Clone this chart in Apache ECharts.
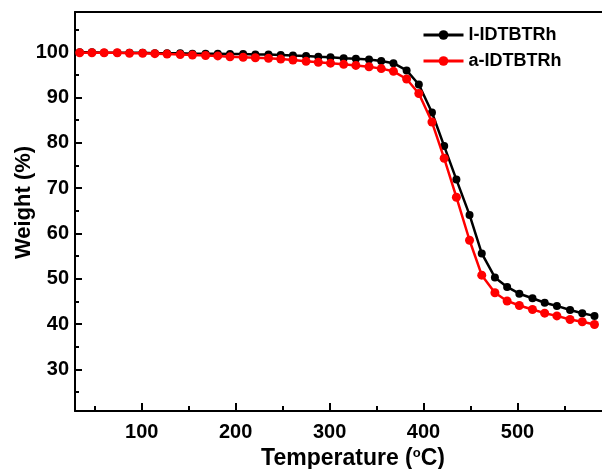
<!DOCTYPE html>
<html><head><meta charset="utf-8">
<script src="https://cdn.jsdelivr.net/npm/echarts@6/dist/echarts.min.js"></script>
<style>html,body{margin:0;padding:0;background:#fff}#c{width:602px;height:469px}</style>
</head><body><div id="c"></div>
<script>
const temperature = [34, 47, 60, 74, 87, 101, 114, 127, 141, 154, 168, 181, 194, 208, 221, 235, 248, 261, 275, 288, 301, 315, 328, 342, 355, 368, 382, 395, 409, 422, 435, 449, 462, 476, 489, 502, 516, 529, 542, 556, 569, 582];
const weightL = [100.0, 100.0, 99.9, 99.9, 99.9, 99.9, 99.8, 99.8, 99.8, 99.7, 99.7, 99.7, 99.6, 99.6, 99.5, 99.5, 99.4, 99.3, 99.2, 99.0, 98.9, 98.7, 98.6, 98.4, 98.1, 97.6, 96.0, 92.9, 86.7, 79.3, 71.9, 64.1, 55.6, 50.3, 48.2, 46.7, 45.7, 44.7, 44.0, 43.1, 42.4, 41.8];
const weightA = [99.9, 99.9, 99.9, 99.9, 99.8, 99.8, 99.7, 99.6, 99.5, 99.4, 99.3, 99.2, 99.0, 98.9, 98.8, 98.7, 98.5, 98.3, 98.0, 97.8, 97.6, 97.35, 97.1, 96.8, 96.4, 95.8, 94.1, 90.9, 84.6, 76.6, 68.0, 58.5, 50.8, 46.9, 45.1, 44.1, 43.2, 42.4, 41.8, 41.0, 40.5, 39.9];
const seriesNames = ['l-IDTBTRh', 'a-IDTBTRh'];
const xTickLabels = [100, 200, 300, 400, 500];
const xMinorTicks = [50, 150, 250, 350, 450, 550];
const yTickLabels = [30, 40, 50, 60, 70, 80, 90, 100];
const yMinorTicks = [25, 35, 45, 55, 65, 75, 85, 95, 105];

const FONT = 'Liberation Sans, Arial, sans-serif';
const X_MIN = 29, X_MAX = 590, Y_MIN = 20.8, Y_MAX = 108.9;
const chart = echarts.init(document.getElementById('c'), null, {renderer: 'canvas'});
const lineAxis = {show: true, lineStyle: {color: '#000', width: 2}};
const pairs = (ys) => temperature.map((t, i) => [t, ys[i]]);

chart.setOption({
  animation: false,
  backgroundColor: '#fff',
  grid: {left: 75, top: 12, right: 0, bottom: 58, containLabel: false, outerBoundsMode: 'none'},
  legend: {
    orient: 'vertical', left: 417, top: 20, itemGap: 6,
    itemWidth: 40, itemHeight: 12,
    lineStyle: {width: 3},
    textStyle: {fontFamily: FONT, fontWeight: 'bold', fontSize: 18, color: '#000', lineHeight: 20},
    data: seriesNames
  },
  xAxis: [
    {
      type: 'value', position: 'bottom', min: X_MIN, max: X_MAX,
      axisLine: lineAxis, splitLine: {show: false},
      axisTick: {show: true, inside: true, length: 8, lineStyle: {color: '#000', width: 2}, customValues: xTickLabels},
      axisLabel: {customValues: xTickLabels, margin: 11, fontFamily: FONT, fontWeight: 'bold', fontSize: 20, color: '#000'},
      name: 'Temperature ({sup|o}C)', nameLocation: 'middle', nameGap: 35,
      nameTextStyle: {fontFamily: FONT, fontWeight: 'bold', fontSize: 23, color: '#000', padding: [0, 0, 0, 29],
        rich: {sup: {fontFamily: FONT, fontWeight: 'bold', fontSize: 13, color: '#000', verticalAlign: 'top', padding: [0, 0, 10, 0]}}}
    },
    {
      type: 'value', position: 'bottom', min: X_MIN, max: X_MAX,
      axisLine: {show: false}, splitLine: {show: false}, axisLabel: {show: false},
      axisTick: {show: true, inside: true, length: 5, lineStyle: {color: '#000', width: 2}, customValues: xMinorTicks}
    },
    {
      type: 'value', position: 'top', min: X_MIN, max: X_MAX,
      axisLine: lineAxis, splitLine: {show: false}, axisLabel: {show: false}, axisTick: {show: false}
    }
  ],
  yAxis: [
    {
      type: 'value', position: 'left', min: Y_MIN, max: Y_MAX,
      axisLine: lineAxis, splitLine: {show: false},
      axisTick: {show: true, inside: true, length: 7, lineStyle: {color: '#000', width: 2}, customValues: yTickLabels},
      axisLabel: {customValues: yTickLabels, margin: 6, fontFamily: FONT, fontWeight: 'bold', fontSize: 20, color: '#000'},
      name: 'Weight (%)', nameLocation: 'middle', nameGap: 40, nameMoveOverlap: false,
      nameTextStyle: {fontFamily: FONT, fontWeight: 'bold', fontSize: 22, color: '#000', padding: [0, 0, 0, 18]}
    },
    {
      type: 'value', position: 'left', min: Y_MIN, max: Y_MAX,
      axisLine: {show: false}, splitLine: {show: false}, axisLabel: {show: false},
      axisTick: {show: true, inside: true, length: 4, lineStyle: {color: '#000', width: 2}, customValues: yMinorTicks}
    }
  ],
  series: [
    {
      name: seriesNames[0], type: 'line', xAxisIndex: 0, yAxisIndex: 0,
      data: pairs(weightL), symbol: 'circle', symbolSize: 8, showAllSymbol: true,
      lineStyle: {color: '#000', width: 2.5}, itemStyle: {color: '#000'}, z: 2
    },
    {
      name: seriesNames[1], type: 'line', xAxisIndex: 0, yAxisIndex: 0,
      data: pairs(weightA), symbol: 'circle', symbolSize: 9, showAllSymbol: true,
      lineStyle: {color: '#f00', width: 2.5}, itemStyle: {color: '#f00'}, z: 3
    }
  ]
});
</script>
</body></html>
